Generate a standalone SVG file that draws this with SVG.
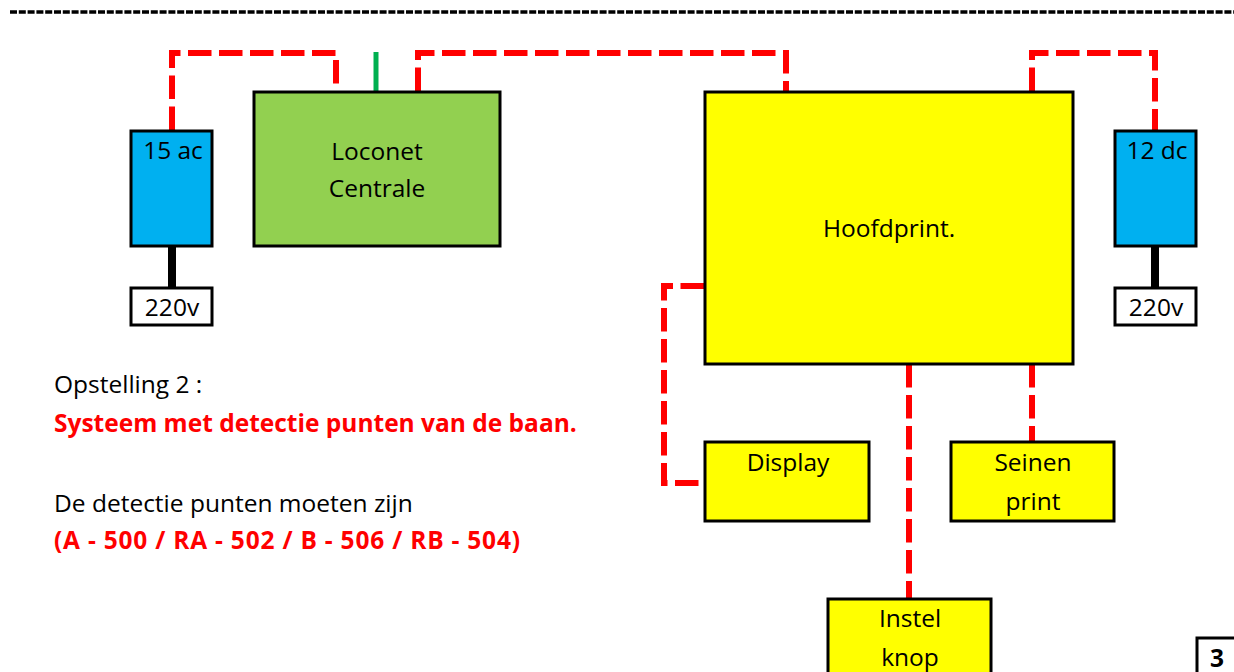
<svg xmlns="http://www.w3.org/2000/svg" width="1234" height="672" viewBox="0 0 1234 672">
  <style>
    .box { stroke: #000; stroke-width: 3; }
    .psu { fill: #00B0F0; }
    .mains { fill: #fff; }
    .loco { fill: #92D050; }
    .yel { fill: #FFFF00; }
    .bus { fill: none; stroke: #FF0000; stroke-width: 6; stroke-dasharray: 23.5 7.5; }
    .t { font-family: "Open Sans", "Noto Sans", "Liberation Sans", sans-serif; font-size: 24.5px; fill: #000; font-variant-ligatures: none; }
    .c { text-anchor: middle; }
    .red { fill: #FF0000; font-weight: bold; }
  </style>

  <!-- page separator -->
  <line x1="10" y1="12" x2="1234" y2="12" stroke="#000" stroke-width="3.5" stroke-dasharray="7 1.8"/>

  <!-- wiring -->
  <g id="connectors">
    <polyline class="bus" points="172,130 172,53 336,53 336,91"/>
    <polyline class="bus" points="418,91 418,53 786,53 786,91"/>
    <polyline class="bus" points="1032,91 1032,53 1155,53 1155,130"/>
    <polyline class="bus" points="704,286 664,286 664,483 704,483"/>
    <line class="bus" x1="909" y1="364" x2="909" y2="598"/>
    <line class="bus" x1="1032" y1="364" x2="1032" y2="442"/>
    <line x1="376" y1="52" x2="376" y2="91" stroke="#00B050" stroke-width="5"/>
    <line x1="172" y1="246" x2="172" y2="287" stroke="#000" stroke-width="8"/>
    <line x1="1155" y1="246" x2="1155" y2="287" stroke="#000" stroke-width="8"/>
  </g>

  <g id="psu15ac">
    <rect class="box psu" x="131" y="131" width="81" height="115"/>
    <text class="t c" x="173" y="159">15 ac</text>
  </g>
  <g id="mains-left">
    <rect class="box mains" x="131" y="288" width="81" height="37"/>
    <text class="t c" x="172" y="316">220v</text>
  </g>

  <g id="loconet">
    <rect class="box loco" x="254" y="92" width="246" height="154"/>
    <text class="t c" x="377" y="160">Loconet</text>
    <text class="t c" x="377" y="197">Centrale</text>
  </g>

  <g id="hoofdprint">
    <rect class="box yel" x="705" y="92" width="368" height="272"/>
    <text class="t c" x="889" y="237">Hoofdprint.</text>
  </g>

  <g id="psu12dc">
    <rect class="box psu" x="1115" y="131" width="81" height="115"/>
    <text class="t c" x="1157" y="159">12 dc</text>
  </g>
  <g id="mains-right">
    <rect class="box mains" x="1115" y="288" width="81" height="37"/>
    <text class="t c" x="1156" y="316">220v</text>
  </g>

  <g id="display">
    <rect class="box yel" x="705" y="442" width="164" height="79"/>
    <text class="t c" x="788" y="471">Display</text>
  </g>

  <g id="seinen">
    <rect class="box yel" x="951" y="442" width="163" height="79"/>
    <text class="t c" x="1033" y="471">Seinen</text>
    <text class="t c" x="1033" y="510">print</text>
  </g>

  <g id="instelknop">
    <rect class="box yel" x="828" y="599" width="163" height="80"/>
    <text class="t c" x="910" y="627">Instel</text>
    <text class="t c" x="910" y="666">knop</text>
  </g>

  <g id="page-number">
    <rect x="1197" y="638" width="40" height="40" fill="#fff" stroke="#000" stroke-width="3"/>
    <text class="t" x="1210" y="667" font-weight="bold">3</text>
  </g>

  <g id="notes">
    <text class="t" x="54" y="393">Opstelling 2 :</text>
    <text class="t red" x="54" y="432">Systeem met detectie punten van de baan.</text>
    <text class="t" x="54" y="512">De detectie punten moeten zijn</text>
    <text class="t red" x="54" y="549" textLength="466" lengthAdjust="spacing">(A - 500 / RA - 502 / B - 506 / RB - 504)</text>
  </g>
</svg>
